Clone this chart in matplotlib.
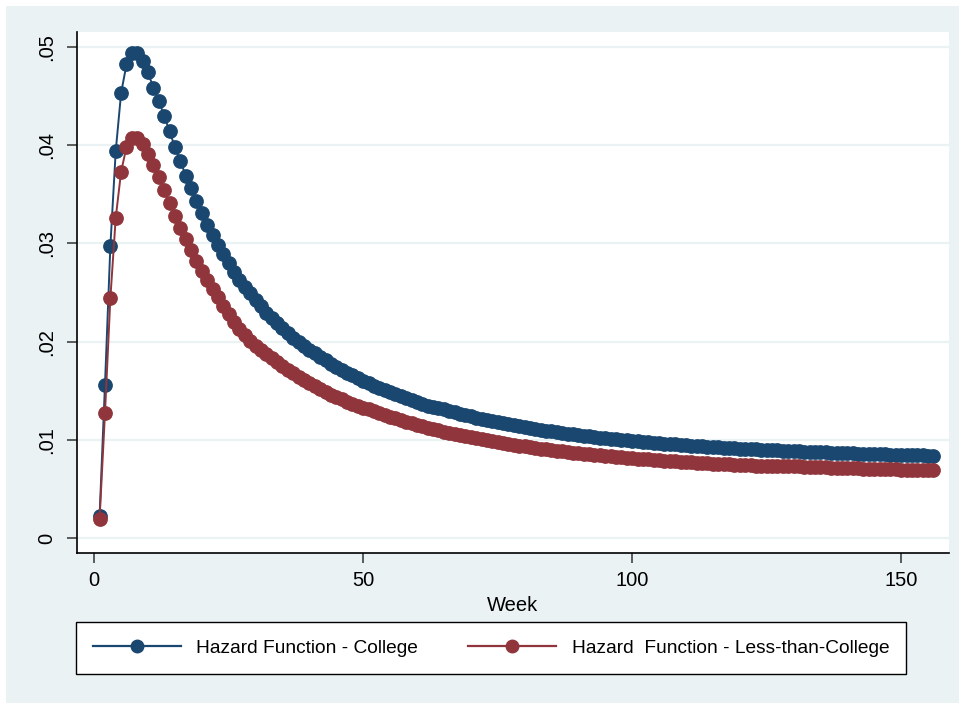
import numpy as np
import matplotlib
matplotlib.use('Agg')
import matplotlib.pyplot as plt
from matplotlib.lines import Line2D
from matplotlib.patches import Rectangle

plt.rcParams['font.family'] = ['Liberation Sans', 'DejaVu Sans']

# hazard estimates, weeks 1..156
college = [
    0.0023, 0.0156, 0.0297, 0.0394, 0.0453, 0.0482, 0.0494, 0.0494, 0.0486, 0.0474,
    0.0458, 0.0445, 0.0430, 0.0414, 0.0398, 0.0384, 0.0369, 0.0356, 0.0343, 0.0331,
    0.0319, 0.0309, 0.0298, 0.0289, 0.0280, 0.0271, 0.0263, 0.0256, 0.0249, 0.0242,
    0.0236, 0.0229, 0.0224, 0.0219, 0.0214, 0.0209, 0.0204, 0.0200, 0.0196, 0.0192,
    0.0188, 0.0184, 0.0181, 0.0177, 0.0174, 0.0171, 0.0168, 0.0166, 0.0163, 0.0160,
    0.0158, 0.0155, 0.0153, 0.0151, 0.0149, 0.0147, 0.0145, 0.0143, 0.0141, 0.0139,
    0.0137, 0.0135, 0.0134, 0.0132, 0.0131, 0.0129, 0.0128, 0.0126, 0.0125, 0.0124,
    0.0122, 0.0121, 0.0120, 0.0119, 0.0118, 0.0117, 0.0116, 0.0115, 0.0114, 0.0113,
    0.0112, 0.0111, 0.0110, 0.0109, 0.0109, 0.0108, 0.0107, 0.0106, 0.0106, 0.0105,
    0.0104, 0.0104, 0.0103, 0.0102, 0.0102, 0.0101, 0.0101, 0.0100, 0.0100, 0.0099,
    0.0099, 0.0098, 0.0098, 0.0097, 0.0097, 0.0096, 0.0096, 0.0096, 0.0095, 0.0095,
    0.0094, 0.0094, 0.0094, 0.0093, 0.0093, 0.0093, 0.0092, 0.0092, 0.0092, 0.0091,
    0.0091, 0.0091, 0.0091, 0.0090, 0.0090, 0.0090, 0.0090, 0.0089, 0.0089, 0.0089,
    0.0089, 0.0088, 0.0088, 0.0088, 0.0088, 0.0088, 0.0087, 0.0087, 0.0087, 0.0087,
    0.0087, 0.0086, 0.0086, 0.0086, 0.0086, 0.0086, 0.0086, 0.0085, 0.0085, 0.0085,
    0.0085, 0.0085, 0.0085, 0.0085, 0.0084, 0.0084,
]
less_college = [
    0.0020, 0.0127, 0.0244, 0.0326, 0.0373, 0.0398, 0.0407, 0.0407, 0.0401, 0.0391,
    0.0380, 0.0367, 0.0354, 0.0341, 0.0328, 0.0316, 0.0304, 0.0293, 0.0282, 0.0272,
    0.0263, 0.0254, 0.0245, 0.0236, 0.0228, 0.0220, 0.0213, 0.0207, 0.0201, 0.0196,
    0.0191, 0.0187, 0.0183, 0.0179, 0.0175, 0.0171, 0.0168, 0.0164, 0.0161, 0.0158,
    0.0155, 0.0152, 0.0149, 0.0146, 0.0144, 0.0142, 0.0139, 0.0137, 0.0135, 0.0133,
    0.0131, 0.0129, 0.0127, 0.0125, 0.0123, 0.0122, 0.0120, 0.0118, 0.0117, 0.0115,
    0.0114, 0.0112, 0.0111, 0.0110, 0.0108, 0.0107, 0.0106, 0.0105, 0.0104, 0.0103,
    0.0102, 0.0101, 0.0100, 0.0099, 0.0098, 0.0097, 0.0096, 0.0095, 0.0094, 0.0094,
    0.0093, 0.0092, 0.0091, 0.0091, 0.0090, 0.0089, 0.0089, 0.0088, 0.0087, 0.0087,
    0.0086, 0.0086, 0.0085, 0.0085, 0.0084, 0.0084, 0.0083, 0.0083, 0.0082, 0.0082,
    0.0081, 0.0081, 0.0081, 0.0080, 0.0080, 0.0079, 0.0079, 0.0079, 0.0078, 0.0078,
    0.0078, 0.0077, 0.0077, 0.0077, 0.0076, 0.0076, 0.0076, 0.0076, 0.0075, 0.0075,
    0.0075, 0.0075, 0.0074, 0.0074, 0.0074, 0.0074, 0.0073, 0.0073, 0.0073, 0.0073,
    0.0073, 0.0072, 0.0072, 0.0072, 0.0072, 0.0072, 0.0071, 0.0071, 0.0071, 0.0071,
    0.0071, 0.0071, 0.0070, 0.0070, 0.0070, 0.0070, 0.0070, 0.0070, 0.0070, 0.0069,
    0.0069, 0.0069, 0.0069, 0.0069, 0.0069, 0.0069,
]
weeks = np.arange(1, len(college) + 1)

yticks = [0, 0.01, 0.02, 0.03, 0.04, 0.05]
ytick_labels = ['0', '.01', '.02', '.03', '.04', '.05']
xticks = [0, 50, 100, 150]
labels = ['Hazard Function - College', 'Hazard  Function - Less-than-College']

blue = '#1a476f'
red = '#90353b'
bg = '#eaf2f3'

W, H = 965, 709
fig = plt.figure(figsize=(W / 100, H / 100), dpi=100)
fig.patch.set_facecolor('white')
fig.add_artist(Rectangle((6 / W, 6 / H), 1 - 12 / W, 1 - 12 / H,
                         transform=fig.transFigure, facecolor=bg,
                         edgecolor='none', zorder=0))

ax = fig.add_axes([77 / W, 1 - 553 / H, 872 / W, 521 / H])
ax.set_facecolor('white')
ax.set_zorder(1)

ax.plot(weeks, college, '-o', color=blue, lw=1.4, ms=9.6, mec=blue, zorder=3)
ax.plot(weeks, less_college, '-o', color=red, lw=1.4, ms=9.6, mec=red, zorder=3)

ax.set_xlim(-3.2, 158.9)
ax.set_ylim(-0.0015, 0.0515)
ax.set_yticks(yticks)
ax.set_yticklabels(ytick_labels, rotation=90, va='center')
ax.set_xticks(xticks)
ax.tick_params(axis='both', labelsize=14.5, length=7, width=1.1, color='#333333')
ax.tick_params(axis='y', pad=8)
ax.tick_params(axis='x', pad=6)
ax.grid(axis='y', color=bg, lw=1.6, zorder=0)
ax.set_axisbelow(True)
for s in ['top', 'right']:
    ax.spines[s].set_visible(False)
for s in ['left', 'bottom']:
    ax.spines[s].set_linewidth(1.2)
    ax.spines[s].set_color('black')
ax.set_xlabel('Week', fontsize=14.5, labelpad=4)

handles = [Line2D([], [], color=c, lw=1.6, marker='o', ms=9, mec=c) for c in (blue, red)]
leg = fig.legend(handles, labels, ncol=2, loc='center',
                 bbox_to_anchor=(491 / W, 1 - 648 / H),
                 fontsize=13.8, handlelength=4.6, handletextpad=0.8,
                 columnspacing=2.6, borderpad=0.9, borderaxespad=0,
                 fancybox=False, frameon=True, framealpha=1)
leg.get_frame().set_edgecolor('black')
leg.get_frame().set_facecolor('white')
leg.get_frame().set_linewidth(1.0)

fig.savefig('out.png', dpi=100, facecolor=fig.get_facecolor())
